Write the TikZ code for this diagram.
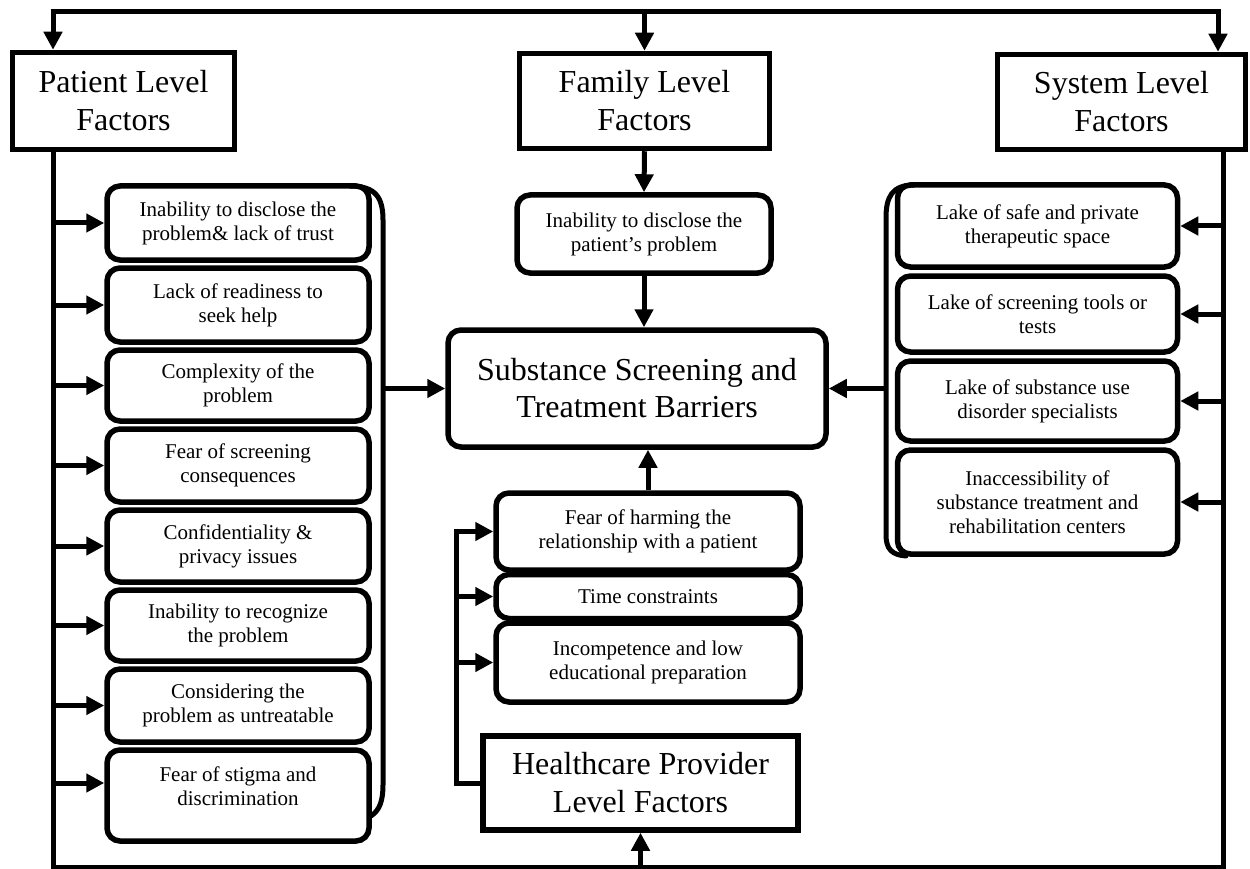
\documentclass[tikz,border=0pt]{standalone}
\usepackage{fontspec}
\setmainfont{Liberation Serif}
\usetikzlibrary{arrows.meta}
\tikzset{
  bigbox/.style={draw, line width=5.5pt, align=center, inner sep=0pt, fill=white,
    font=\fontsize{32}{38}\selectfont},
  rbox/.style={draw, line width=5.5pt, rounded corners=13pt, align=center, inner sep=0pt, fill=white,
    font=\fontsize{21}{24}\selectfont},
  cbox/.style={rbox, font=\fontsize{32}{37}\selectfont},
  lineseg/.style={line width=5pt},
  arr/.style={line width=5pt, -{Triangle[length=18pt,width=18pt]}},
  brk/.style={line width=5pt, line cap=round},
}
\begin{document}
\begin{tikzpicture}[x=1pt,y=-1pt]
\useasboundingbox (0,0) rectangle (1250,869);

% coordinates of trunks
\coordinate (tl) at (53,12);
\coordinate (tm) at (644.5,12);
\coordinate (tr) at (1218,12);
\coordinate (bl) at (53,865);
\coordinate (br) at (1223,865);
\coordinate (hl) at (456,700);
\coordinate (lb) at (383,388.5);
\coordinate (rb) at (886,388.5);

% level boxes
\node[bigbox, minimum width=222, minimum height=97] (patient) at (123.5,101) {Patient Level\\Factors};
\node[bigbox, minimum width=250, minimum height=95] (family) at (644.5,101) {Family Level\\Factors};
\node[bigbox, minimum width=248, minimum height=95] (system) at (1121.5,102) {System Level\\Factors};

% family sub
\node[rbox, minimum width=254, minimum height=78] (fam1) at (644,234) {Inability to disclose the\\patient’s problem};

% central
\node[cbox, minimum width=378, minimum height=117] (central) at (637,388.5) {Substance Screening and\\Treatment Barriers};

% patient subs
\node[rbox, minimum width=262, minimum height=74] (p1) at (238,223) {Inability to disclose the\\problem\& lack of trust};
\node[rbox, minimum width=262, minimum height=74] (p2) at (238,305) {Lack of readiness to\\seek help};
\node[rbox, minimum width=262, minimum height=71] (p3) at (238,385.5) {Complexity of the\\problem};
\node[rbox, minimum width=262, minimum height=73] (p4) at (238,465.5) {Fear of screening\\consequences};
\node[rbox, minimum width=262, minimum height=72] (p5) at (238,546) {Confidentiality \&\\privacy issues};
\node[rbox, minimum width=262, minimum height=71] (p6) at (238,625.5) {Inability to recognize\\the problem};
\node[rbox, minimum width=262, minimum height=73] (p7) at (238,705.5) {Considering the\\problem as untreatable};
\node[rbox, minimum width=262, minimum height=91] (p8) at (238,795.5) {Fear of stigma and\\discrimination\\[-6pt]~};

% system subs
\node[rbox, minimum width=280, minimum height=82] (s1) at (1037.5,226) {Lake of safe and private\\therapeutic space};
\node[rbox, minimum width=280, minimum height=76] (s2) at (1037.5,314) {Lake of screening tools or\\tests};
\node[rbox, minimum width=280, minimum height=80] (s3) at (1037.5,401) {Lake of substance use\\disorder specialists};
\node[rbox, minimum width=280, minimum height=104] (s4) at (1037.5,502) {Inaccessibility of\\substance treatment and\\rehabilitation centers};

% healthcare subs
\node[rbox, minimum width=304, minimum height=77] (h1) at (648,531.5) {Fear of harming the\\relationship with a patient};
\node[rbox, minimum width=304, minimum height=44] (h2) at (648,596.5) {Time constraints};
\node[rbox, minimum width=304, minimum height=79] (h3) at (648,662.5) {Incompetence and low\\educational preparation};
\node[bigbox, minimum width=315, minimum height=94] (hc) at (640.5,783) {Healthcare Provider\\Level Factors};

% top distribution line
\draw[lineseg] ([xshift=-2.5pt]tl) -- ([xshift=2.5pt]tr);
\draw[arr] (tl) -- (tl |- patient.north);
\draw[arr] (tm) -- (family.north);
\draw[arr] (tr) -- (tr |- system.north);

% family chain
\draw[arr] (family.south) -- (fam1.north);
\draw[arr] (fam1.south) -- (fam1.south |- central.north);

% outer loop
\draw[lineseg] (bl |- patient.south) -- ([yshift=-2.5pt]bl) -- ([yshift=-2.5pt]br) -- (br |- system.south);
\draw[arr] (bl -| hc.south) -- (hc.south);

% patient arrows
\foreach \n in {p1,p2,p3,p4,p5,p6,p7}{
  \draw[arr] (bl |- \n.west) -- (\n.west);
}
\draw[arr] (bl |- 0,783) -- (p8.west |- 0,783);

% system arrows
\foreach \n in {s1,s2,s3,s4}{
  \draw[arr] (br |- \n.east) -- (\n.east);
}

% left bracket
\draw[brk] (350,186) .. controls (376,186) and (383,198) .. (383,220) -- (383,785) .. controls (383,800) and (380,810) .. (371,816);
\draw[arr] (lb) -- (central.west);

% right bracket
\draw[brk] (914,185) .. controls (892,185) and (886,197) .. (886,218) -- (886,535) .. controls (886,549) and (892,555) .. (906,556);
\draw[arr] (rb) -- (central.east);

% healthcare connectors
\draw[lineseg] (hc.west) -- (hc.west -| hl) -- ([yshift=2.5pt]hl |- h1.west);
\draw[arr] (hl |- h1.west) -- (h1.west);
\draw[arr] (hl |- h2.west) -- (h2.west);
\draw[arr] (hl |- h3.west) -- (h3.west);
\draw[arr] (h1.north) -- (h1.north |- central.south);
\end{tikzpicture}
\end{document}
